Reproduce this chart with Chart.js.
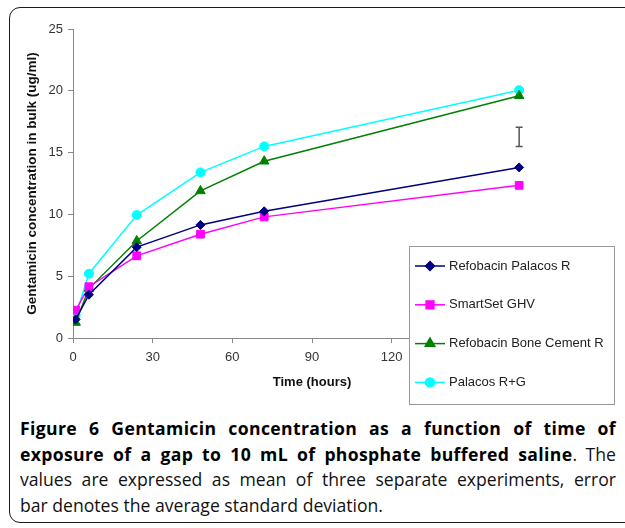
<!DOCTYPE html>
<html>
<head>
<meta charset="utf-8">
<script src="https://cdn.jsdelivr.net/npm/chart.js@4"></script>
<style>
  html, body { margin: 0; padding: 0; background: #fff; }
  body { width: 625px; height: 528px; position: relative; overflow: hidden; }
  #frame { position: absolute; left: 9px; top: 7px; width: 700px; height: 514px;
           border: 1.5px solid #1a1a1a; border-radius: 11px; }
  #wrap { position: absolute; left: 0; top: 0; width: 625px; height: 410px; }
  #caption { position: absolute; left: 20px; top: 416px; width: 596px;
             font-family: "Open Sans", sans-serif; font-size: 17.6px; line-height: 25.7px;
             color: #111; }
  #caption div { white-space: nowrap; }
  #caption .j { text-align: justify; text-align-last: justify; white-space: normal; }
  #caption b { font-weight: 700; color: #000; letter-spacing: 0.35px; }
</style>
</head>
<body>
<div id="frame"></div>
<div id="wrap"><canvas id="chart" width="625" height="410"></canvas></div>
<div id="caption">
  <div class="j"><b>Figure 6 Gentamicin concentration as a function of time of</b></div>
  <div class="j"><b>exposure of a gap to 10 mL of phosphate buffered saline</b>. The</div>
  <div class="j">values are expressed as mean of three separate experiments, error</div>
  <div>bar denotes the average standard deviation.</div>
</div>
<script>
const hours = [1, 6, 24, 48, 72, 168];
const refobacinPalacos = [1.5, 3.5, 7.35, 9.15, 10.25, 13.8];
const smartSet = [2.25, 4.15, 6.65, 8.4, 9.8, 12.35];
const refobacinBone = [1.25, 4.0, 7.85, 11.9, 14.3, 19.6];
const palacosRG = [1.8, 5.2, 9.95, 13.4, 15.5, 20.05];
const errorBar = { x: 168, low: 15.5, high: 17.05 };
const xTicks = [0, 30, 60, 90, 120, 150, 180];

const series = [
  { label: 'Refobacin Palacos R', data: refobacinPalacos, color: '#000080', style: 'rectRot', r: 4.5 },
  { label: 'SmartSet GHV', data: smartSet, color: '#ff00ff', style: 'rect', r: 5.5 },
  { label: 'Refobacin Bone Cement R', data: refobacinBone, color: '#008000', style: 'triangle', r: 5.5 },
  { label: 'Palacos R+G', data: palacosRG, color: '#00ffff', style: 'circle', r: 4.5 }
];

const font = "'Liberation Sans', Arial, sans-serif";

const errorBarPlugin = {
  id: 'errorBar',
  afterDatasetsDraw(chart) {
    const ctx = chart.ctx;
    const x = chart.scales.x.getPixelForValue(errorBar.x);
    const y1 = chart.scales.y.getPixelForValue(errorBar.low);
    const y2 = chart.scales.y.getPixelForValue(errorBar.high);
    ctx.save();
    ctx.strokeStyle = '#555';
    ctx.lineWidth = 1.5;
    ctx.beginPath();
    ctx.moveTo(x, y1); ctx.lineTo(x, y2);
    ctx.moveTo(x - 3.5, y1); ctx.lineTo(x + 3.5, y1);
    ctx.moveTo(x - 3.5, y2); ctx.lineTo(x + 3.5, y2);
    ctx.stroke();
    ctx.restore();
  }
};

// legend box sits over the x axis, like the original
const boxLegend = {
  id: 'boxLegend',
  afterDraw(chart) {
    const ctx = chart.ctx;
    const bx = 409, by = 246, bw = 205, bh = 158;
    ctx.save();
    ctx.fillStyle = '#fff';
    ctx.fillRect(bx, by, bw, bh);
    ctx.strokeStyle = '#999';
    ctx.lineWidth = 1;
    ctx.strokeRect(bx + 0.5, by + 0.5, bw, bh);
    ctx.font = '13px ' + font;
    ctx.textBaseline = 'middle';
    series.forEach((s, i) => {
      const y = 266 + i * 38.8;
      ctx.strokeStyle = s.color;
      ctx.fillStyle = s.color;
      ctx.lineWidth = 1.5;
      ctx.beginPath();
      ctx.moveTo(415, y); ctx.lineTo(445, y);
      ctx.stroke();
      Chart.helpers.drawPoint(ctx, { pointStyle: s.style, radius: s.r, rotation: 0, borderWidth: 1 }, 430, y);
      ctx.fillStyle = '#222';
      ctx.fillText(s.label, 449, y);
    });
    ctx.restore();
  }
};

new Chart(document.getElementById('chart'), {
  type: 'line',
  data: {
    datasets: series.map(s => ({
      label: s.label,
      data: hours.map((h, i) => ({ x: h, y: s.data[i] })),
      borderColor: s.color,
      backgroundColor: s.color,
      borderWidth: 1.5,
      pointStyle: s.style,
      pointRadius: s.r,
      pointBorderWidth: 1,
      tension: 0
    }))
  },
  options: {
    responsive: false,
    animation: false,
    layout: { padding: { left: 0, right: 74, top: 29, bottom: 0 } },
    plugins: { legend: { display: false }, tooltip: { enabled: false } },
    scales: {
      x: {
        type: 'linear', min: 0, max: 180,
        afterBuildTicks: s => { s.ticks = xTicks.map(v => ({ value: v })); },
        afterFit: s => { s.height = 72; },
        grid: { drawOnChartArea: false, drawTicks: true, tickLength: 5, color: '#888' },
        border: { color: '#888', width: 1 },
        ticks: { font: { size: 13, family: font }, color: '#333', padding: 7, maxRotation: 0 },
        title: { display: true, text: 'Time (hours)', color: '#111',
                 font: { size: 13, weight: 'bold', family: font }, padding: { top: 0, bottom: 20 } }
      },
      y: {
        min: 0, max: 25,
        ticks: { stepSize: 5, font: { size: 13, family: font }, color: '#333', padding: 5 },
        afterFit: s => { s.width = 73; },
        grid: { drawOnChartArea: false, drawTicks: true, tickLength: 5, color: '#888' },
        border: { color: '#888', width: 1 },
        title: { display: true, text: 'Gentamicin concentration in bulk (ug/ml)', color: '#111',
                 font: { size: 13.5, weight: 'bold', family: font }, padding: { top: 24, bottom: 0 } }
      }
    }
  },
  plugins: [errorBarPlugin, boxLegend]
});
</script>
</body>
</html>
